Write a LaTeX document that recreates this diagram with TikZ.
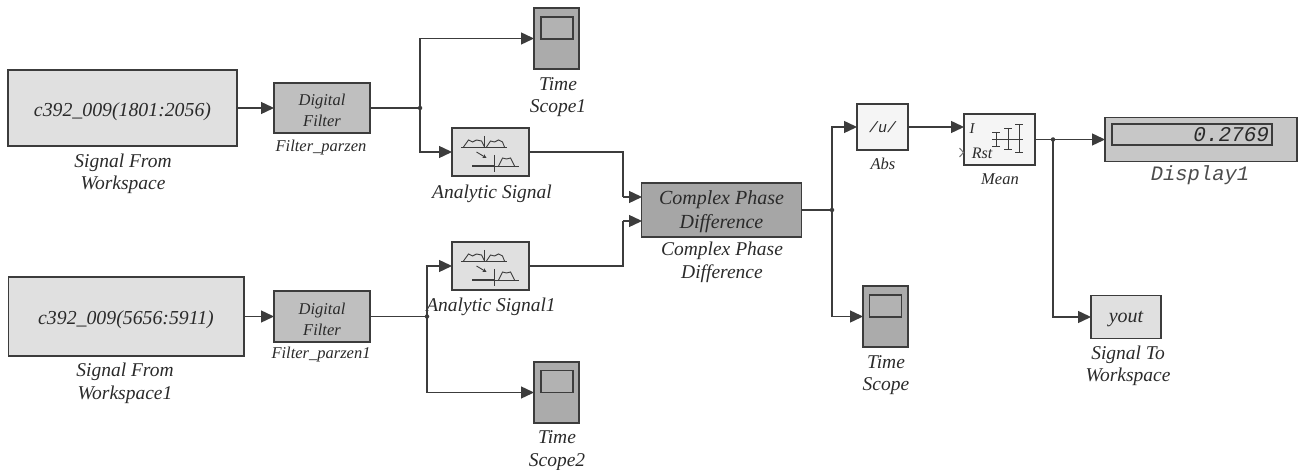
\documentclass[tikz,border=0pt]{standalone}
\usepackage{fontspec}
\setmainfont{Liberation Serif}
\setmonofont{Liberation Mono}
\usetikzlibrary{arrows.meta}
\definecolor{ln}{HTML}{3C3C3C}
\definecolor{tx}{HTML}{2A2A2A}
\newcommand\dnbox[2][-5pt]{\raisebox{#1}[0pt][0pt]{\begin{tabular}{@{}c@{}}#2\end{tabular}}}
\tikzset{
  block/.style={draw=ln,line width=1.5pt,rectangle,inner sep=0pt,outer sep=0pt,text=tx,align=center,font=\itshape\fontsize{#1}{21}\selectfont},
  block/.default=19,
  srcbox/.style={block=19.8,fill=black!12},
  filtbox/.style={block=16.5,fill=black!25},
  scopebox/.style={block,fill=black!33,minimum width=45pt,minimum height=61pt},
  screenbox/.style={block,fill=black!30,minimum width=32pt,minimum height=22pt},
  anbox/.style={block,fill=black!12,minimum width=77pt,minimum height=48pt},
  lightbox/.style={block=16,fill=black!4},
  lab/.style={yshift=-2.5pt,inner sep=0pt,outer sep=0pt,text=tx,align=center,font=\itshape\fontsize{19.5}{22.5}\selectfont},
  smalllab/.style={yshift=-1.5pt,inner sep=0pt,outer sep=0pt,text=tx,align=center,font=\itshape\fontsize{16.5}{20}\selectfont},
  conn/.style={draw=ln,line width=1.4pt},
  arr/.style={conn,-{Triangle[length=13pt,width=12pt]}},
  dot/.style={circle,fill=ln,inner sep=0pt,minimum size=4.5pt},
  icon/.style={draw=ln,line width=0.9pt},
  analyticicon/.pic={
    \draw[icon] (-29.5,-5) -- (16.5,-5);
    \draw[icon] (-27,-5) -- (-22,-12) -- (-18,-10) -- (-14,-12) -- (-9,-11) -- (-6,-5);
    \draw[icon] (-4,-5) -- (0,-11) -- (4,-10) -- (8,-12) -- (12,-10) -- (14,-5);
    \draw[icon] (-6.5,-16) -- (-6.5,-4);
    \draw[icon,-{Stealth[length=4pt,width=4pt]}] (-14,0) -- (-4,6);
    \draw[draw=ln,line width=1.6pt] (-18.5,14) -- (3,14);
    \draw[icon] (3,14) -- (28.5,14);
    \draw[icon] (3.5,3) -- (3.5,20);
    \draw[icon] (8,14) -- (12,6) -- (16,7) -- (20,6) -- (24,14);
  }
}
\begin{document}
\begin{tikzpicture}[x=1pt,y=-1pt]
\useasboundingbox (0,0) rectangle (1298,470);
% blocks
\node[srcbox,minimum width=229pt,minimum height=76pt] (sig1) at (122.5,108) {\dnbox[-9pt]{c392\_009(1801:2056)}};
\node[srcbox,minimum width=235.5pt,minimum height=79pt] (sig2) at (126,316.5) {\dnbox[-9pt]{c392\_009(5656:5911)}};
\node[filtbox,minimum width=96pt,minimum height=50pt] (filt1) at (322,108) {\dnbox[-8.5pt]{Digital\\Filter}};
\node[filtbox,minimum width=96pt,minimum height=51pt] (filt2) at (322,316.5) {\dnbox[-8.5pt]{Digital\\Filter}};
\node[scopebox] (sc1) at (556.5,38.5) {};
\node[screenbox] (scr1) at (557,28) {};
\node[scopebox] (sc2) at (556.5,392.5) {};
\node[screenbox] (scr2) at (557,381.5) {};
\node[scopebox] (sc) at (885.5,316.5) {};
\node[screenbox] (scr) at (885.5,306) {};
\node[anbox] (an1) at (490.5,152) {};
\node[anbox] (an2) at (490.5,266) {};
\pic at (an1.center) {analyticicon};
\pic at (an2.center) {analyticicon};
\node[block=20,fill=black!35,minimum width=160pt,minimum height=54pt,font=\itshape\fontsize{20}{24}\selectfont] (cpd) at (721.5,210) {\dnbox[-7pt]{Complex Phase\\Difference}};
\node[lightbox,minimum width=51pt,minimum height=46pt] (abs) at (882.5,127) {\ttfamily\fontsize{15}{18}\selectfont /u/};
\node[lightbox,minimum width=71pt,minimum height=51pt] (mean) at (999.5,139.5) {};
\node[block,fill=black!22,minimum width=192pt,minimum height=44pt] (disp) at (1201,139.5) {};
\node[block,fill=black!22,minimum width=160pt,minimum height=21pt,text width=154pt,align=right,font=\ttfamily\itshape\fontsize{21}{21}\selectfont] (dispv) at (1192,134.5) {0.2769};
\node[block=20,fill=black!12,minimum width=70pt,minimum height=43pt] (yout) at (1126,317) {\dnbox[-6pt]{yout}};
% mean icon
\draw[icon] (992,139) -- (1023,139);
\foreach \ex/\ea/\eb in {996/132/146,1008/128/149,1019/124/152}{
  \draw[icon] (\ex,\ea) -- (\ex,\eb);
  \draw[icon] (\ex-4,\ea) -- (\ex+4,\ea);
  \draw[icon] (\ex-4,\eb) -- (\ex+4,\eb);
}
\node[smalllab,font=\itshape\fontsize{15}{18}\selectfont] (mI) at (972,127) {I};
\node[smalllab,font=\itshape\fontsize{16}{18}\selectfont] (mR) at (982,152) {Rst};
\draw[draw=black!55,line width=1pt] (959.5,148) -- (963.5,152.5) -- (959.5,157);
% labels
\node[lab] (l1) at (123,171.5) {Signal From\\Workspace};
\node[lab] (l2) at (125,381) {Signal From\\Workspace1};
\node[smalllab] (l3) at (321,146) {Filter\_parzen};
\node[smalllab] (l4) at (321,353) {Filter\_parzen1};
\node[lab] (l5) at (558,94.5) {Time\\Scope1};
\node[lab] (l6) at (557,448) {Time\\Scope2};
\node[lab] (l7) at (492,191) {Analytic Signal};
\node[lab] (l8) at (491,304) {Analytic Signal1};
\node[lab] (l9) at (722,260) {Complex Phase\\Difference};
\node[smalllab] (l10) at (883,162) {Abs};
\node[smalllab] (l11) at (1000,178) {Mean};
\node[lab,yshift=1.5pt,font=\ttfamily\itshape\fontsize{20.5}{22}\selectfont,text=black!70] (l12) at (1200,174) {Display1};
\node[lab] (l13) at (886,372.5) {Time\\Scope};
\node[lab] (l14) at (1128,363.5) {Signal To\\Workspace};
% junctions
\node[dot] (j1) at (420,108) {};
\node[dot] (j2) at (427,316.5) {};
\node[dot] (j3) at (832,210) {};
\node[dot] (j4) at (1053,139.5) {};
\coordinate (b1) at (623,197);
\coordinate (b2) at (623,221);
\coordinate (in1) at (642,197);
\coordinate (in2) at (642,221);
\coordinate (mi) at (964,127);
% connectors
\draw[arr] (sig1.east) -- (filt1.west);
\draw[arr] (sig2.east) -- (filt2.west);
\draw[conn] (filt1.east) -- (j1.center);
\draw[conn] (filt2.east) -- (j2.center);
\draw[arr] (j1.center) |- (sc1.west);
\draw[arr] (j1.center) |- (an1.west);
\draw[arr] (j2.center) |- (an2.west);
\draw[arr] (j2.center) |- (sc2.west);
\draw[conn] (an1.east) -| (b1);
\draw[arr] (b1) -- (in1);
\draw[conn] (an2.east) -| (b2);
\draw[arr] (b2) -- (in2);
\draw[conn] (cpd.east) -- (j3.center);
\draw[arr] (j3.center) |- (abs.west);
\draw[arr] (j3.center) |- (sc.west);
\draw[arr] (abs.east) -- (mi);
\draw[conn] (mean.east) -- (j4.center);
\draw[arr] (j4.center) -- (disp.west);
\draw[arr] (j4.center) |- (yout.west);
\end{tikzpicture}
\end{document}
